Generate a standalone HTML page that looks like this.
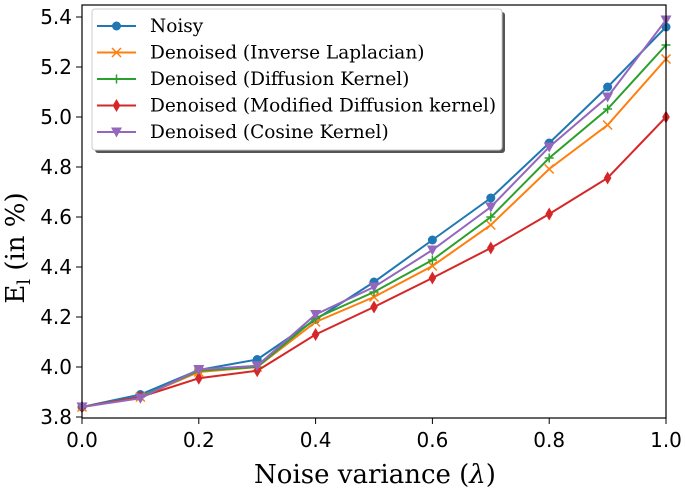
<!DOCTYPE html>
<html><head><meta charset="utf-8"><style>
body{margin:0;background:#fff}
svg{display:block;font-family:"DejaVu Serif","Liberation Serif",serif}
</style></head><body>
<svg id="chart" width="685" height="490" viewBox="0 0 685 490" xmlns="http://www.w3.org/2000/svg">
<defs><clipPath id="clip"><rect x="76" y="0" width="600" height="425"/></clipPath></defs>
<g id="grid"></g>
<g id="series" clip-path="url(#clip)"></g>
<rect x="82" y="5" width="584" height="413" fill="none" stroke="#000" stroke-width="1.2"/>
<g id="ticks"></g>
<text x="375" y="483" text-anchor="middle" font-size="26">Noise variance (<tspan font-style="italic">λ</tspan>)</text>
<text transform="translate(24,248) rotate(-90)" text-anchor="middle" font-size="26">E<tspan font-size="18" dy="6">l</tspan><tspan dy="-6"> (in %)</tspan></text>
<g id="legend">
<rect x="95" y="12" width="410" height="141" rx="3" fill="#555"/>
<rect x="92" y="9" width="410" height="141" rx="3" fill="#fff" stroke="#ccc" stroke-width="1"/>
</g>
</svg>
<script>
const xVals=[0,0.1,0.2,0.3,0.4,0.5,0.6,0.7,0.8,0.9,1.0];
const noisy=[3.84,3.89,3.988,4.03,4.19,4.34,4.508,4.676,4.896,5.12,5.36];
const invLap=[3.84,3.88,3.98,4.0,4.18,4.28,4.404,4.568,4.792,4.968,5.232];
const diffK=[3.84,3.88,3.985,4.0,4.195,4.30,4.428,4.60,4.836,5.032,5.288];
const modDiff=[3.84,3.88,3.955,3.985,4.13,4.24,4.356,4.476,4.612,4.756,5.0];
const cosK=[3.84,3.875,3.99,4.005,4.21,4.32,4.468,4.64,4.88,5.08,5.388];
const seriesNames=["Noisy","Denoised (Inverse Laplacian)","Denoised (Diffusion Kernel)","Denoised (Modified Diffusion kernel)","Denoised (Cosine Kernel)"];
const xTicks=[0,0.2,0.4,0.6,0.8,1.0];
const xTickLabels=["0.0","0.2","0.4","0.6","0.8","1.0"];
const yTicks=[3.8,4.0,4.2,4.4,4.6,4.8,5.0,5.2,5.4];
const yTickLabels=["3.8","4.0","4.2","4.4","4.6","4.8","5.0","5.2","5.4"];

const NS="http://www.w3.org/2000/svg";
const X=v=>82+v*584;
const Y=v=>367-(v-4)*250;
function mk(tag,attrs,parent){const e=document.createElementNS(NS,tag);for(const k in attrs)e.setAttribute(k,attrs[k]);parent.appendChild(e);return e;}
const ticks=document.getElementById('ticks');
xTicks.forEach((t,i)=>{
  const l=mk('line',{x1:X(t),x2:X(t),y1:418,y2:424,stroke:'#000','stroke-width':1},ticks);
  
  
  const tx=mk('text',{x:X(t),y:447,'text-anchor':'middle','font-size':20,'font-family':'DejaVu Sans, Liberation Sans, sans-serif'},ticks);
  tx.textContent=xTickLabels[i];
  
  
});
yTicks.forEach((t,i)=>{
  const l=mk('line',{x1:76,x2:82,y1:Y(t),y2:Y(t),stroke:'#000','stroke-width':1},ticks);
  
  
  const tx=mk('text',{x:72,y:Y(t)+7,'text-anchor':'end','font-size':20,'font-family':'DejaVu Sans, Liberation Sans, sans-serif'},ticks);
  tx.textContent=yTickLabels[i];
  
  
});
const colors=['#1f77b4','#ff7f0e','#2ca02c','#d62728','#9467bd'];
const markers=['circle','x','plus','diamond','tri'];
function marker(type,cx,cy,c,g){
  let e;
  if(type==='circle') e=mk('circle',{cx:cx,cy:cy,r:4.5,fill:c},g);
  else if(type==='x') e=mk('path',{d:`M${cx-4.5} ${cy-4.5}L${cx+4.5} ${cy+4.5}M${cx-4.5} ${cy+4.5}L${cx+4.5} ${cy-4.5}`,stroke:c,'stroke-width':1.5,fill:'none'},g);
  else if(type==='plus') e=mk('path',{d:`M${cx-4.5} ${cy}L${cx+4.5} ${cy}M${cx} ${cy-4.5}L${cx} ${cy+4.5}`,stroke:c,'stroke-width':1.5,fill:'none'},g);
  else if(type==='diamond') e=mk('path',{d:`M${cx} ${cy-6.5}L${cx+3.8} ${cy}L${cx} ${cy+6.5}L${cx-3.8} ${cy}Z`,fill:c},g);
  else e=mk('path',{d:`M${cx-5.5} ${cy-4.5}L${cx+5.5} ${cy-4.5}L${cx} ${cy+5.5}Z`,fill:c},g);
  
  
}
const allSeries=[noisy,invLap,diffK,modDiff,cosK];
const sg=document.getElementById('series');
allSeries.forEach((arr,si)=>{
  const g=mk('g',{},sg);
  
  
  const pl=mk('polyline',{points:arr.map((v,i)=>X(xVals[i])+','+Y(v)).join(' '),fill:'none',stroke:colors[si],'stroke-width':2},g);
  
  
  arr.forEach((v,i)=>marker(markers[si],X(xVals[i]),Y(v),colors[si],g));
});
const lg=document.getElementById('legend');
seriesNames.forEach((n,i)=>{
  const y=26+i*26.5;
  const g=mk('g',{},lg);
  
  
  mk('line',{x1:97,x2:136,y1:y,y2:y,stroke:colors[i],'stroke-width':2},g);
  marker(markers[i],116.5,y,colors[i],g);
  const t=mk('text',{x:150,y:y+6,'font-size':18.5},g);
  t.textContent=n;
});
</script>
</body></html>
